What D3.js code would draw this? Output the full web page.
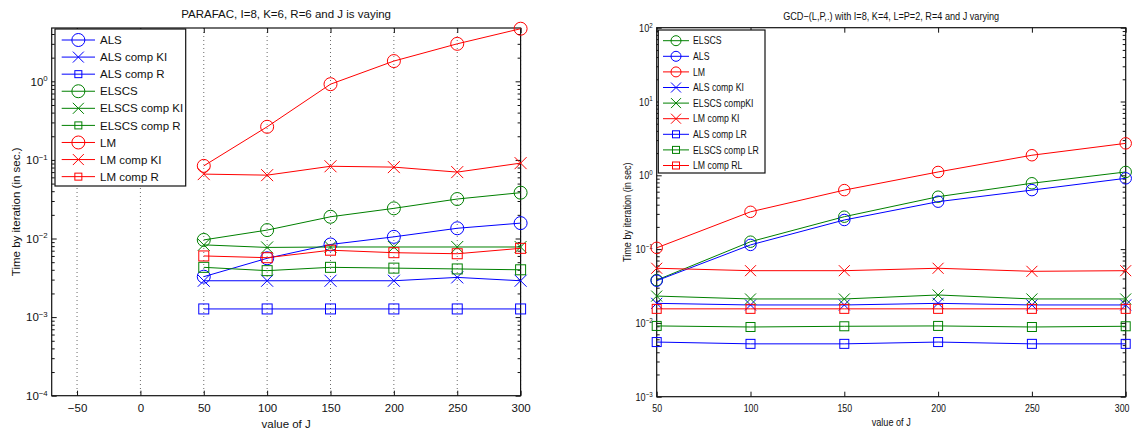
<!DOCTYPE html>
<html>
<head>
<meta charset="utf-8">
<script src="https://cdn.jsdelivr.net/npm/d3@7"></script>
<style>
body { margin: 0; background: #fff; }
svg { font-family: "Liberation Sans", Arial, sans-serif; }
</style>
</head>
<body>
<script>
// values of J (shared by both panels)
const jValues = [50, 100, 150, 200, 250, 300];

// left panel: PARAFAC
const leftNames = ['ALS', 'ALS comp KI', 'ALS comp R', 'ELSCS', 'ELSCS comp KI', 'ELSCS comp R', 'LM', 'LM comp KI', 'LM comp R'];
const alsL     = [0.00327, 0.0056, 0.0084, 0.0105, 0.0135, 0.0157];
const alsKiL   = [0.0029, 0.0029, 0.0029, 0.0029, 0.0032, 0.0029];
const alsRL    = [0.00127, 0.00127, 0.00127, 0.00127, 0.00127, 0.00127];
const elscsL   = [0.0096, 0.0128, 0.0189, 0.0242, 0.0318, 0.0383];
const elscsKiL = [0.0083, 0.0077, 0.0078, 0.0078, 0.0078, 0.0078];
const elscsRL  = [0.0043, 0.0039, 0.0043, 0.0042, 0.0041, 0.0040];
const lmL      = [0.084, 0.264, 0.92, 1.81, 3.0, 4.67];
const lmKiL    = [0.066, 0.064, 0.083, 0.081, 0.070, 0.091];
const lmRL     = [0.0060, 0.0057, 0.0071, 0.0066, 0.0064, 0.0075];
const leftXTicks = [-50, 0, 50, 100, 150, 200, 250, 300];

// right panel: GCD-(L,P,.)
const rightNames = ['ELSCS', 'ALS', 'LM', 'ALS comp KI', 'ELSCS compKI', 'LM comp KI', 'ALS comp LR', 'ELSCS comp LR', 'LM comp RL'];
const elscsR   = [0.038, 0.126, 0.275, 0.513, 0.78, 1.11];
const alsR     = [0.0373, 0.114, 0.248, 0.439, 0.63, 0.91];
const lmR      = [0.104, 0.32, 0.63, 1.11, 1.87, 2.71];
const alsKiR   = [0.0184, 0.0175, 0.0175, 0.0184, 0.0175, 0.0175];
const elscsKiR = [0.0231, 0.0211, 0.0211, 0.0239, 0.0211, 0.0211];
const lmKiR    = [0.055, 0.051, 0.051, 0.055, 0.050, 0.051];
const alsLrR   = [0.0055, 0.0052, 0.0052, 0.0055, 0.0052, 0.0052];
const elscsLrR = [0.0091, 0.0088, 0.0090, 0.0091, 0.0088, 0.0090];
const lmRlR    = [0.0155, 0.0155, 0.0155, 0.0155, 0.0155, 0.0155];
const rightXTicks = [50, 100, 150, 200, 250, 300];

const blue = '#0000ff', green = '#008000', red = '#ff0000';
const W = 1133;

let svg = d3.select('body').append('svg').attr('width', W).attr('height', 430);

// squeeze text horizontally (the right figure uses a narrow font)
function narrow(sel, k) {
    if (k === 1) return;
    sel.each(function() {
        let len = this.getComputedTextLength();
        d3.select(this).attr('textLength', len * k).attr('lengthAdjust', 'spacingAndGlyphs');
    });
}

function marker(g, type, cx, cy, s, color) {
    let h = s / 2;
    if (type === 'o') {
        g.append('circle').attr('cx', cx).attr('cy', cy).attr('r', h)
            .attr('fill', 'none').attr('stroke', color);
    } else if (type === 'x') {
        g.append('path')
            .attr('d', `M${cx - h},${cy - h}L${cx + h},${cy + h}M${cx - h},${cy + h}L${cx + h},${cy - h}`)
            .attr('stroke', color).attr('fill', 'none');
    } else {
        g.append('rect').attr('x', cx - h).attr('y', cy - h).attr('width', s).attr('height', s)
            .attr('fill', 'none').attr('stroke', color);
    }
}

function drawPanel(p) {
    let g = svg.append('g');
    let x = d3.scaleLinear().domain(p.xDomain).range([p.left, p.right]);
    let y = d3.scaleLog().domain(p.yDomain).range([p.bottom, p.top]);

    let decades = p.decades.map(e => Math.pow(10, e));
    let minor = [];
    p.decades.forEach(e => {
        for (let k = 2; k <= 9; k++) {
            let v = k * Math.pow(10, e);
            if (v < p.yDomain[1]) minor.push(v);
        }
    });

    // dotted vertical grid
    if (p.grid) {
        g.append('g').selectAll('line').data(p.xTicks).join('line')
            .attr('x1', d => x(d)).attr('x2', d => x(d))
            .attr('y1', p.top).attr('y2', p.bottom)
            .attr('stroke', '#444').attr('stroke-width', 0.8)
            .attr('stroke-dasharray', '1,3');
    }

    // axes, ticks pointing inward like matlab
    let bottomAx = g.append('g').attr('transform', `translate(0,${p.bottom})`)
        .call(d3.axisBottom(x).tickValues(p.xTicks).tickSizeInner(-5).tickSizeOuter(0)
            .tickPadding(p.xPad).tickFormat(d3.format('d')));
    bottomAx.selectAll('text').attr('font-size', p.tickFont).attr('font-family', p.font).attr('fill', '#111');
    // a label sitting on the page edge is right-aligned so it stays whole
    bottomAx.selectAll('.tick text').each(function(d) {
        let half = this.getComputedTextLength() / 2;
        if (x(d) + half > W - 1) {
            d3.select(this).attr('text-anchor', 'end').attr('x', W - 4 - x(d));
        }
    });
    narrow(bottomAx.selectAll('text'), p.tickSqueeze);

    g.append('g').attr('transform', `translate(0,${p.top})`)
        .call(d3.axisTop(x).tickValues(p.xTicks).tickSizeInner(-5).tickSizeOuter(0).tickFormat(''));

    let leftAx = g.append('g').attr('transform', `translate(${p.left},0)`)
        .call(d3.axisLeft(y).tickValues(decades).tickSizeInner(-5).tickSizeOuter(0).tickPadding(4));
    leftAx.selectAll('.tick text').each(function(d) {
        let t = d3.select(this).text(null)
            .attr('font-size', p.tickFont).attr('font-family', p.font).attr('fill', '#111');
        t.append('tspan').text('10');
        t.append('tspan').attr('dy', '-0.55em').attr('font-size', p.tickFont * 0.68)
            .text(d3.format('d')(Math.round(Math.log10(d))));
    });
    narrow(leftAx.selectAll('.tick text'), p.squeeze);
    g.append('g').attr('transform', `translate(${p.left},0)`)
        .call(d3.axisLeft(y).tickValues(minor).tickSizeInner(-3).tickSizeOuter(0).tickFormat(''));
    g.append('g').attr('transform', `translate(${p.right},0)`)
        .call(d3.axisRight(y).tickValues(decades).tickSizeInner(-5).tickSizeOuter(0).tickFormat(''));
    g.append('g').attr('transform', `translate(${p.right},0)`)
        .call(d3.axisRight(y).tickValues(minor).tickSizeInner(-3).tickSizeOuter(0).tickFormat(''));
    g.selectAll('.domain').remove();
    g.selectAll('.tick line').attr('stroke', '#111');

    g.append('rect').attr('x', p.left).attr('y', p.top)
        .attr('width', p.right - p.left).attr('height', p.bottom - p.top)
        .attr('fill', 'none').attr('stroke', '#111').attr('stroke-width', 1.2);

    // series
    let line = d3.line().x(d => x(d[0])).y(d => y(d[1]));
    p.series.forEach((s, i) => {
        let pts = jValues.map((j, k) => [j, s[k]]);
        g.append('path').datum(pts).attr('d', line)
            .attr('fill', 'none').attr('stroke', p.colors[i]).attr('stroke-width', 1);
        pts.forEach(pt => marker(g, p.markers[i], x(pt[0]), y(pt[1]), p.markSize[p.markers[i]], p.colors[i]));
    });

    // texts
    let title = g.append('text').attr('x', (p.left + p.right) / 2).attr('y', p.titleY)
        .attr('text-anchor', 'middle').attr('font-size', p.titleFont).attr('font-family', p.font)
        .attr('fill', '#111').text(p.title);
    narrow(title, p.squeeze);
    let xl = g.append('text').attr('x', (p.left + p.right) / 2).attr('y', p.xLabelY)
        .attr('text-anchor', 'middle').attr('font-size', p.labelFont).attr('font-family', p.font)
        .attr('fill', '#111').text('value of J');
    narrow(xl, p.squeeze);
    let yl = g.append('text')
        .attr('transform', `translate(${p.yLabelX},${(p.top + p.bottom) / 2}) rotate(-90)`)
        .attr('text-anchor', 'middle').attr('font-size', p.labelFont).attr('font-family', p.font)
        .attr('fill', '#111').text(p.yLabel);
    narrow(yl, p.squeeze);

    // legend
    let lg = p.legend;
    g.append('rect').attr('x', lg.x0).attr('y', lg.y0)
        .attr('width', lg.x1 - lg.x0).attr('height', lg.y1 - lg.y0)
        .attr('fill', '#fff').attr('stroke', '#111').attr('stroke-width', 1.2);
    p.names.forEach((n, i) => {
        let yy = lg.row0 + i * lg.step;
        g.append('line').attr('x1', lg.lineX0).attr('x2', lg.lineX1).attr('y1', yy).attr('y2', yy)
            .attr('stroke', p.colors[i]).attr('stroke-width', 1);
        marker(g, p.markers[i], (lg.lineX0 + lg.lineX1) / 2, yy, lg.markSize[p.markers[i]], p.colors[i]);
        let t = g.append('text').attr('x', lg.textX).attr('y', yy).attr('dy', '0.36em')
            .attr('font-size', lg.font).attr('font-family', p.font).attr('fill', '#111').text(n);
        narrow(t, p.squeeze);
    });
}

drawPanel({
    left: 51.7, right: 520.6, top: 28, bottom: 395.7,
    xDomain: [-70, 300], yDomain: [1e-4, 4.77], decades: [-4, -3, -2, -1, 0],
    xTicks: leftXTicks, grid: true, xPad: 8,
    font: '"Liberation Sans", Arial, sans-serif', squeeze: 1, tickSqueeze: 1,
    tickFont: 11.5, titleFont: 11.5, labelFont: 11.5,
    title: 'PARAFAC, I=8, K=6, R=6 and J is vaying', titleY: 18,
    xLabelY: 428, yLabelX: 20, yLabel: 'Time by iteration (in sec.)',
    names: leftNames,
    series: [alsL, alsKiL, alsRL, elscsL, elscsKiL, elscsRL, lmL, lmKiL, lmRL],
    colors: [blue, blue, blue, green, green, green, red, red, red],
    markers: ['o', 'x', 's', 'o', 'x', 's', 'o', 'x', 's'],
    markSize: {o: 13, x: 12, s: 10},
    legend: {x0: 55, y0: 29, x1: 185.7, y1: 186, row0: 40, step: 17.08,
        lineX0: 61.7, lineX1: 95, textX: 100, font: 11.5, markSize: {o: 13, x: 11, s: 7}}
});

drawPanel({
    left: 656.7, right: 1125.7, top: 27.7, bottom: 396.7,
    xDomain: [50, 300], yDomain: [1e-3, 1e2], decades: [-3, -2, -1, 0, 1, 2],
    xTicks: rightXTicks, grid: false, xPad: 7.5,
    font: '"Liberation Sans", Arial, sans-serif', squeeze: 0.83, tickSqueeze: 0.8,
    tickFont: 11, titleFont: 11, labelFont: 11,
    title: 'GCD\u2212(L,P,.) with I=8, K=4, L=P=2, R=4 and J varying', titleY: 19.5,
    xLabelY: 425.5, yLabelX: 631, yLabel: 'Time by iteration (in sec)',
    names: rightNames,
    series: [elscsR, alsR, lmR, alsKiR, elscsKiR, lmKiR, alsLrR, elscsLrR, lmRlR],
    colors: [green, blue, red, blue, green, red, blue, green, red],
    markers: ['o', 'o', 'o', 'x', 'x', 'x', 's', 's', 's'],
    markSize: {o: 11.5, x: 11, s: 9},
    legend: {x0: 658.3, y0: 30, x1: 765, y1: 173, row0: 40.7, step: 15.6,
        lineX0: 663, lineX1: 689, textX: 693, font: 10.5, markSize: {o: 10, x: 10, s: 7}}
});
</script>
</body>
</html>
